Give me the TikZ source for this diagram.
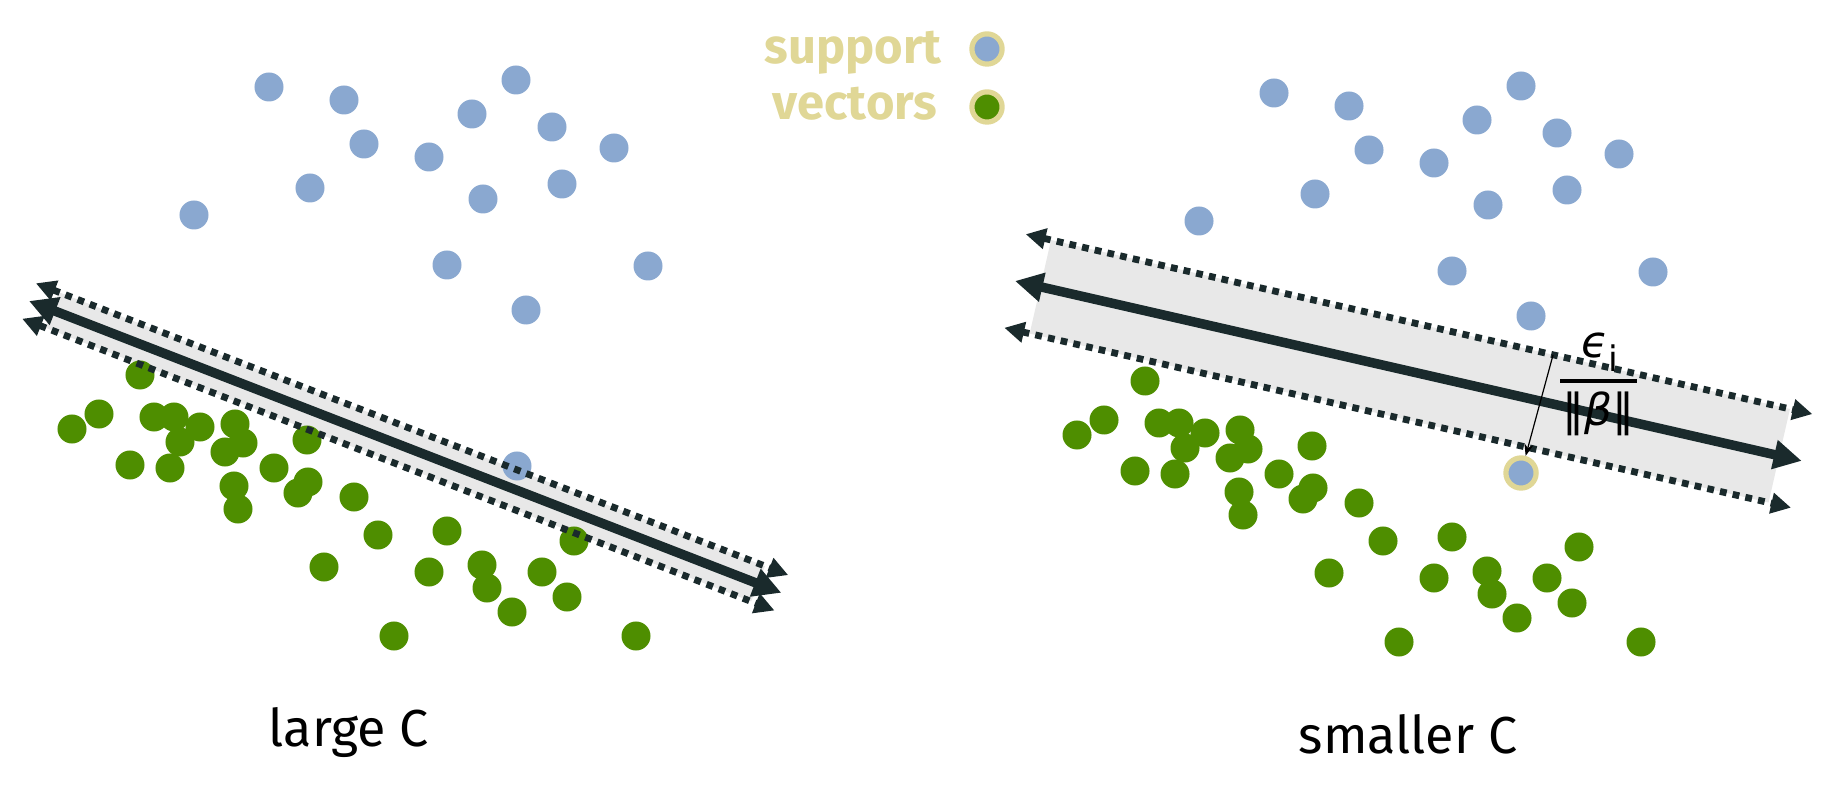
\documentclass[tikz,border=0pt]{standalone}
\usepackage{fontspec}
\setmainfont{Fira Sans}
\newfontfamily\dvsans{DejaVu Sans}
\usetikzlibrary{arrows.meta}
\definecolor{dotblue}{RGB}{138,168,208}
\definecolor{dotgreen}{RGB}{78,142,0}
\definecolor{linedark}{RGB}{26,42,44}
\definecolor{bandgray}{RGB}{232,232,232}
\definecolor{khaki}{RGB}{224,215,150}
\begin{document}
\begin{tikzpicture}[
            x=0.01cm,
            y=-0.01cm,
            bluept/.style={circle, fill=dotblue, inner sep=0pt, minimum size=0.29cm},
            greenpt/.style={circle, fill=dotgreen, inner sep=0pt, minimum size=0.29cm},
            svring/.style={circle, fill=dotblue, draw=khaki, line width=0.052cm, inner sep=0pt, minimum size=0.302cm},
            band/.style={fill=bandgray},
            hyper/.style={draw=linedark, line width=0.095cm,
                {Triangle[length=0.28cm, width=0.28cm]}-{Triangle[length=0.28cm, width=0.28cm]}},
            margin/.style={draw=linedark, line width=0.068cm, dash pattern=on 0.068cm off 0.062cm,
                {Triangle[length=0.2cm, width=0.2cm]}-{Triangle[length=0.2cm, width=0.2cm]}},
            gaparrow/.style={draw=black, line width=0.012cm, -{Stealth[length=0.12cm, width=0.09cm]}},
            fracbar/.style={draw=black, line width=0.036cm},
            fractext/.style={font=\dvsans\fontsize{12.5pt}{14pt}\selectfont, inner sep=0pt},
            legtext/.style={font=\bfseries\fontsize{13.9pt}{16pt}\selectfont, text=khaki, inner sep=0pt},
            caption/.style={font=\fontsize{14.8pt}{17pt}\selectfont, inner sep=0pt}
        ]
        \useasboundingbox (0,0) rectangle (1831,795);

        \begin{scope}[shift={(29,301)}, rotate=-21.2]
            \coordinate (lA) at (0,0);
            \coordinate (lB) at (807,0);
            \coordinate (lUA) at (0,-19);
            \coordinate (lUB) at (807,-19);
            \coordinate (lLA) at (0,19);
            \coordinate (lLB) at (807,19);
            \coordinate (lb1) at (25,-19);
            \coordinate (lb2) at (782,-19);
            \coordinate (lb3) at (782,19);
            \coordinate (lb4) at (25,19);
        \end{scope}
        \begin{scope}[shift={(1015,281)}, rotate=-12.88]
            \coordinate (rA) at (0,0);
            \coordinate (rB) at (807,0);
            \coordinate (rUA) at (0,-48);
            \coordinate (rUB) at (807,-48);
            \coordinate (rLA) at (0,48);
            \coordinate (rLB) at (807,48);
            \coordinate (rb1) at (26,-48);
            \coordinate (rb2) at (784,-48);
            \coordinate (rb3) at (784,48);
            \coordinate (rb4) at (26,48);
            \coordinate (rgap) at (541,-48);
        \end{scope}

        \fill[band] (lb1) -- (lb2) -- (lb3) -- (lb4) -- cycle;
        \fill[band] (rb1) -- (rb2) -- (rb3) -- (rb4) -- cycle;

        \foreach \px/\py [count=\k] in {269/87, 344/100, 516/80, 472/114, 552/127, 364/144, 429/157,
                614/148, 310/188, 562/184, 483/199, 194/215, 447/265, 648/266, 526/310} {
            \node[bluept] (bl\k) at (\px,\py) {};
            \node[bluept] (br\k) at (\px+1005,\py+6) {};
        }
        \foreach \px/\py [count=\k] in {72/429, 99/414, 140/375, 154/417, 174/417, 200/427, 180/442,
                235/424, 243/443, 225/452, 307/440, 130/465, 170/468, 274/468, 234/486, 238/509,
                308/482, 298/493, 354/497, 378/535, 447/531, 574/541, 324/567, 429/572, 482/565,
                487/588, 542/572, 567/597, 512/612, 394/636, 636/636} {
            \node[greenpt] (gl\k) at (\px,\py) {};
            \node[greenpt] (gr\k) at (\px+1005,\py+6) {};
        }
        \node[bluept] (bl16) at (517,466) {};
        \node[svring] (sv) at (1521,473) {};

        \draw[margin] (lUA) -- (lUB);
        \draw[margin] (lLA) -- (lLB);
        \draw[hyper] (lA) -- (lB);
        \draw[margin] (rUA) -- (rUB);
        \draw[margin] (rLA) -- (rLB);
        \draw[hyper] (rA) -- (rB);

        \draw[gaparrow] (rgap) -- (sv);
        \coordinate (fb1) at (1560,381);
        \coordinate (fb2) at (1637,381);
        \draw[fracbar] (fb1) -- (fb2);
        \node[fractext, anchor=base] (fnum) at (1600,358) {\itshape ϵ\raisebox{-0.3em}{\upshape\fontsize{10pt}{11pt}\selectfont i}};
        \node[fractext, anchor=base] (fden) at (1598,426) {‖\itshape β\upshape‖};

        \node[svring] (legb) at (987,49) {};
        \node[svring, fill=dotgreen] (legg) at (987,107) {};
        \node[legtext, anchor=base] (legs) at (853,64) {support};
        \node[legtext, anchor=base] (legv) at (855,120) {vectors};

        \node[caption, anchor=base] (capl) at (349,746) {large C};
        \node[caption, anchor=base] (capr) at (1408,753) {smaller C};
    \end{tikzpicture}
\end{document}
